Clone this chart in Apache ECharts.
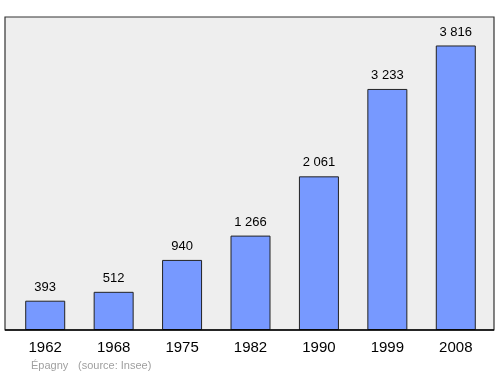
<!DOCTYPE html>
<html><head><meta charset="utf-8">
<script src="https://cdn.jsdelivr.net/npm/echarts@6/dist/echarts.min.js"></script>
<style>html,body{margin:0;padding:0;background:#fff}#c{width:500px;height:374px}</style>
</head><body><div id="c"></div>
<script>
const years = ['1962','1968','1975','1982','1990','1999','2008'];
const population = [393, 512, 940, 1266, 2061, 3233, 3816];
const labels = ['393','512','940','1 266','2 061','3 233','3 816'];
const yMax = 4198;

const chart = echarts.init(document.getElementById('c'), null, {renderer:'canvas'});
chart.setOption({
  animation:false,
  grid:[
    {left:5, right:6, top:17, bottom:44, show:true, backgroundColor:'#eeeeee', borderColor:'#333', borderWidth:1.2},
    {left:11, width:479, top:17, bottom:44}
  ],
  xAxis:[
    {gridIndex:0, type:'category', data:years, show:false},
    {gridIndex:1, type:'category', data:years,
     axisLine:{show:false}, axisTick:{show:false},
     axisLabel:{fontFamily:'Liberation Sans, Arial, sans-serif', fontSize:15, color:'#000', margin:10}}
  ],
  yAxis:[
    {gridIndex:0, type:'value', min:0, max:yMax, show:false},
    {gridIndex:1, type:'value', min:0, max:yMax, show:false}
  ],
  series:[
    {type:'line', xAxisIndex:0, yAxisIndex:0, data:[], silent:true,
     markLine:{silent:true, symbol:'none', label:{show:false},
       lineStyle:{color:'#000', width:1.6, type:'solid'}, data:[{yAxis:0}]}},
    {type:'bar', xAxisIndex:1, yAxisIndex:1, data:population, barWidth:40,
     itemStyle:{color:'#7799ff', borderColor:'#222', borderWidth:1},
     label:{show:true, position:'top', distance:7, formatter:p=>labels[p.dataIndex],
       fontFamily:'Liberation Sans, Arial, sans-serif', fontSize:13, color:'#000'}}
  ],
  graphic:[
    {type:'text', left:31, top:360, style:{text:'Épagny', fontFamily:'Liberation Sans, Arial, sans-serif', fontSize:11, fill:'#a0a0a0'}},
    {type:'text', left:78, top:360, style:{text:'(source: Insee)', fontFamily:'Liberation Sans, Arial, sans-serif', fontSize:11, fill:'#a0a0a0'}}
  ]
});
</script></body></html>
